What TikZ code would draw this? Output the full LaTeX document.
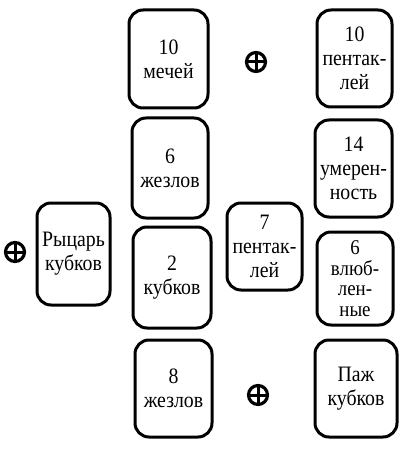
\documentclass[tikz,border=0pt]{standalone}
\usepackage{fontspec}
\setmainfont[FakeStretch=0.9]{Liberation Serif}
\usepackage{tikz}
\usetikzlibrary{positioning}

\begin{document}
\begin{tikzpicture}[x=1pt, y=-1pt,
    card/.style={draw, line width=3pt, rounded corners=14pt, inner sep=0pt,
                 align=center, font=\fontsize{22}{24}\selectfont},
    cross/.style={draw, circle, line width=3.2pt, minimum size=19pt, inner sep=0pt,
                  path picture={
                    \draw[line width=3pt] (path picture bounding box.north) -- (path picture bounding box.south);
                    \draw[line width=3pt] (path picture bounding box.west) -- (path picture bounding box.east);
                  }}]

\useasboundingbox (0,0) rectangle (400,449);

% --- Middle column ---
\node[card, minimum width=79pt, minimum height=98pt] (C1) at (168.5,59) {10\\мечей};
\node[card, minimum width=76pt, minimum height=100pt] (C2) at (170,168) {6\\жезлов};
\node[card, minimum width=78pt, minimum height=101pt] (C3) at (172,277.5) {2\\кубков};
\node[card, minimum width=77pt, minimum height=97pt] (C4) at (173.5,388.5) {8\\жезлов};

% --- Right column ---
\node[card, minimum width=75pt, minimum height=97pt] (C5) at (354.5,58.5) {10\\пентак-\\лей};
\node[card, minimum width=77pt, minimum height=97pt] (C6) at (353.5,168.5) {14\\умерен-\\ность};
\node[card, minimum width=76pt, minimum height=93pt,
      font=\fontsize{21}{20.5}\selectfont] (C7) at (355,278.5) {6\\влюб-\\лен-\\ные};
\node[card, minimum width=82pt, minimum height=97pt] (C8) at (356,388.5) {Паж\\кубков};

% --- Centre and left ---
\node[card, minimum width=75pt, minimum height=87pt] (C9) at (264.5,246.5) {7\\пентак-\\лей};
\node[card, minimum width=73pt, minimum height=102pt] (C10) at (73.5,254) {Рыцарь\\кубков};

% --- Crossed circles ---
\node[cross] (X1) at (15,252) {};
\node[cross] (X2) at (256,62) {};
\node[cross] (X3) at (258,395) {};

\end{tikzpicture}
\end{document}
